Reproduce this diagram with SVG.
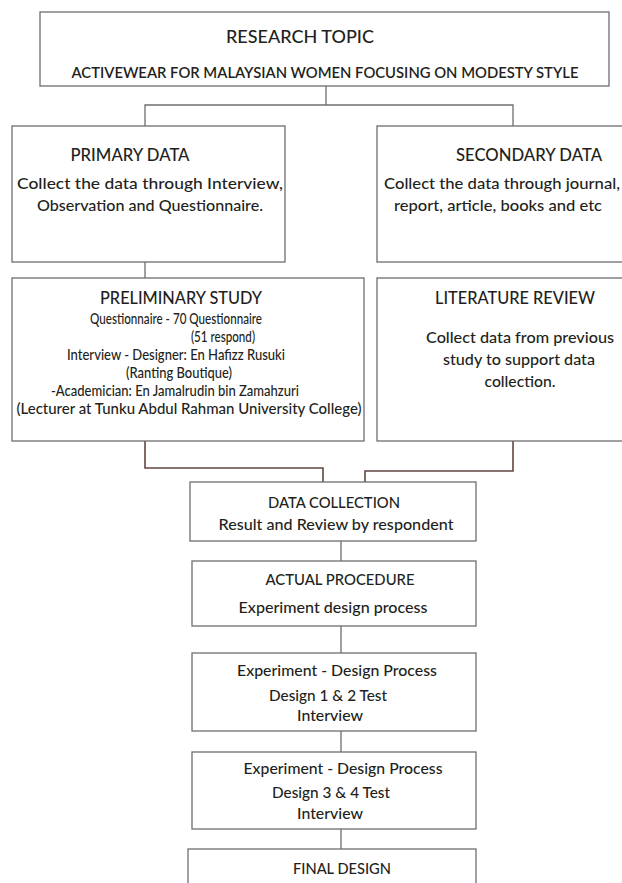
<svg xmlns="http://www.w3.org/2000/svg" width="622" height="883" viewBox="0 0 622 883">
<style>
.box{fill:#fff;stroke:#6d6e71;stroke-width:1.3}
.ln{fill:none;stroke:#6d6e71;stroke-width:1.3}
.br{fill:none;stroke:#634540;stroke-width:1.6}
text{font-family:Lato,"Open Sans","Liberation Sans",sans-serif;font-weight:500;fill:#231f20;text-anchor:middle}
.h{font-size:17px}
.b{font-size:16px}
.s{font-size:14.5px}
.sb{font-weight:600}
</style>
<rect width="622" height="883" fill="#fff"/>
<g id="connectors">
<path class="ln" d="M326 86V105M145 126V105H513V126"/>
<path class="ln" d="M145 262V278"/>
<path class="br" d="M145 441V468H323V482"/>
<path class="br" d="M513 441V471H365V482"/>
<path class="ln" d="M341 541V561M341 626V653M341 731V752M341 829V849"/>
</g>
<g id="research-topic">
<rect class="box" x="40" y="12" width="569" height="74"/>
<text class="h" x="300" y="43" textLength="148" lengthAdjust="spacingAndGlyphs">RESEARCH TOPIC</text>
<text class="b sb" x="325" y="78" textLength="507" lengthAdjust="spacingAndGlyphs">ACTIVEWEAR FOR MALAYSIAN WOMEN FOCUSING ON MODESTY STYLE</text>
</g>
<g id="primary-data">
<rect class="box" x="12" y="126" width="273" height="136"/>
<text class="h" x="130" y="161" textLength="119" lengthAdjust="spacingAndGlyphs">PRIMARY DATA</text>
<text class="b" x="150" y="189" textLength="266" lengthAdjust="spacingAndGlyphs">Collect the data through Interview,</text>
<text class="b" x="150" y="211" textLength="226" lengthAdjust="spacingAndGlyphs">Observation and Questionnaire.</text>
</g>
<g id="secondary-data">
<rect class="box" x="377" y="126" width="260" height="136"/>
<text class="h" x="529" y="161" textLength="146" lengthAdjust="spacingAndGlyphs">SECONDARY DATA</text>
<text class="b" x="502" y="189" textLength="236" lengthAdjust="spacingAndGlyphs">Collect the data through journal,</text>
<text class="b" x="498" y="211" textLength="208" lengthAdjust="spacingAndGlyphs">report, article, books and etc</text>
</g>
<g id="preliminary-study">
<rect class="box" x="12" y="278" width="352" height="163"/>
<text class="h" x="181" y="304" textLength="162" lengthAdjust="spacingAndGlyphs">PRELIMINARY STUDY</text>
<text class="s" x="176" y="324" textLength="172" lengthAdjust="spacingAndGlyphs">Questionnaire - 70 Questionnaire</text>
<text class="s" x="223" y="342" textLength="64" lengthAdjust="spacingAndGlyphs">(51 respond)</text>
<text class="s" x="176" y="360" textLength="218" lengthAdjust="spacingAndGlyphs">Interview - Designer: En Hafizz Rusuki</text>
<text class="s" x="179" y="378" textLength="106" lengthAdjust="spacingAndGlyphs">(Ranting Boutique)</text>
<text class="s" x="175" y="396" textLength="248" lengthAdjust="spacingAndGlyphs">-Academician: En Jamalrudin bin Zamahzuri</text>
<text class="s" x="189" y="414" textLength="345" lengthAdjust="spacingAndGlyphs">(Lecturer at Tunku Abdul Rahman University College)</text>
</g>
<g id="literature-review">
<rect class="box" x="377" y="278" width="260" height="163"/>
<text class="h" x="515" y="304" textLength="160" lengthAdjust="spacingAndGlyphs">LITERATURE REVIEW</text>
<text class="b" x="520" y="343" textLength="188" lengthAdjust="spacingAndGlyphs">Collect data from previous</text>
<text class="b" x="519" y="365" textLength="152" lengthAdjust="spacingAndGlyphs">study to support data</text>
<text class="b" x="520" y="387" textLength="71" lengthAdjust="spacingAndGlyphs">collection.</text>
</g>
<g id="data-collection">
<rect class="box" x="190" y="482" width="286" height="59"/>
<text class="b" x="334" y="508" textLength="132" lengthAdjust="spacingAndGlyphs">DATA COLLECTION</text>
<text class="b" x="336" y="530" textLength="235" lengthAdjust="spacingAndGlyphs">Result and Review by respondent</text>
</g>
<g id="actual-procedure">
<rect class="box" x="192" y="561" width="284" height="65"/>
<text class="b" x="340" y="585" textLength="149" lengthAdjust="spacingAndGlyphs">ACTUAL PROCEDURE</text>
<text class="b" x="333" y="613" textLength="189" lengthAdjust="spacingAndGlyphs">Experiment design process</text>
</g>
<g id="experiment-1">
<rect class="box" x="192" y="653" width="284" height="78"/>
<text class="b" x="337" y="676" textLength="200" lengthAdjust="spacingAndGlyphs">Experiment - Design Process</text>
<text class="b" x="328" y="701" textLength="118" lengthAdjust="spacingAndGlyphs">Design 1 &amp; 2 Test</text>
<text class="b" x="330" y="721" textLength="66" lengthAdjust="spacingAndGlyphs">Interview</text>
</g>
<g id="experiment-2">
<rect class="box" x="192" y="752" width="284" height="77"/>
<text class="b" x="343" y="774" textLength="199" lengthAdjust="spacingAndGlyphs">Experiment - Design Process</text>
<text class="b" x="331" y="798" textLength="118" lengthAdjust="spacingAndGlyphs">Design 3 &amp; 4 Test</text>
<text class="b" x="330" y="819" textLength="66" lengthAdjust="spacingAndGlyphs">Interview</text>
</g>
<g id="final-design">
<rect class="box" x="188" y="849" width="288" height="60"/>
<text class="b" x="342" y="874" textLength="98" lengthAdjust="spacingAndGlyphs">FINAL DESIGN</text>
</g>
</svg>
